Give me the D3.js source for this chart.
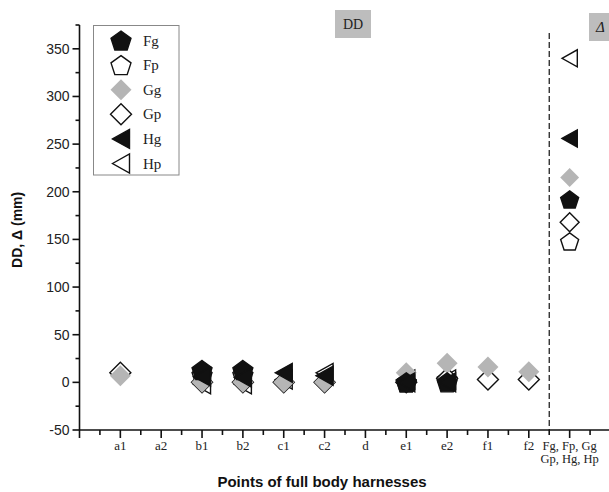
<!DOCTYPE html>
<html>
<head>
<meta charset="utf-8">
<script src="https://cdn.jsdelivr.net/npm/d3@7.9.0/dist/d3.min.js"></script>
<style>
  body { margin: 0; background: #fff; }
  svg { display: block; }
</style>
</head>
<body>
<svg width="609" height="492"></svg>
<script>
// categories on the x axis (index 1..12)
const categories = ["a1", "a2", "b1", "b2", "c1", "c2", "d", "e1", "e2", "f1", "f2", "Fg, Fp, Gg|Gp, Hg, Hp"];

// series values per category (null = no point)
const Fg = [null, null, 13, 13, null, null, null, 0, 0, null, null, 192];
const Fp = [null, null, 8, 8, null, null, null, 0, 3, null, null, 148];
const Gg = [7, null, 0, 0, 0, 0, null, 10, 20, 16, 11, 215];
const Gp = [10, null, 0, 0, 0, 0, null, 0, 4, 3, 3, 168];
const Hg = [null, null, 6, 5, 10, 7, null, 0, 0, null, null, 256];
const Hp = [null, null, -2, -2, 3, 10, null, 3, 3, null, null, 340];

const yMajor = [-50, 0, 50, 100, 150, 200, 250, 300, 350];
const yMinor = [-25, 25, 75, 125, 175, 225, 275, 325, 375];

const series = [
  { name: "Fg", values: Fg, shape: "pent", fill: "#111", stroke: "#111" },
  { name: "Fp", values: Fp, shape: "pent", fill: "#fff", stroke: "#111" },
  { name: "Gg", values: Gg, shape: "diam", fill: "#b5b5b5", stroke: "none" },
  { name: "Gp", values: Gp, shape: "diam", fill: "#fff", stroke: "#111" },
  { name: "Hg", values: Hg, shape: "tri", fill: "#111", stroke: "#111" },
  { name: "Hp", values: Hp, shape: "tri", fill: "#fff", stroke: "#111" }
];
// open markers underneath, filled ones on top
const drawOrder = ["Fp", "Hp", "Gp", "Gg", "Fg", "Hg"];

const svg = d3.select("svg");
const x = d3.scaleLinear().domain([0, 13]).range([79.5, 610.5]);
const y = d3.scaleLinear().domain([-50, 375]).range([430, 25]);

// marker shapes
function shapePath(shape, s) {
  if (shape === "pent") {
    const r = 10.5 * s;
    const pts = d3.range(5).map(i => {
      const a = -Math.PI / 2 + i * 2 * Math.PI / 5;
      return [r * Math.cos(a), r * Math.sin(a) + 1];
    });
    return "M" + pts.join("L") + "Z";
  }
  if (shape === "diam") {
    const r = 10.5 * s;
    return `M0,${-r}L${r},0L0,${r}L${-r},0Z`;
  }
  const w = 8.5 * s, h = 9.5 * s;
  return `M${-w},0L${w},${-h}L${w},${h}Z`;
}

// series points
drawOrder.map(n => series.find(s => s.name === n)).forEach(sr => {
  svg.append("g").selectAll("path")
    .data(sr.values.map((v, i) => ({ v, i })).filter(d => d.v !== null))
    .enter()
    .append("path")
    .attr("transform", d => `translate(${x(d.i + 1)},${y(d.v)})`)
    .attr("d", d => shapePath(sr.shape, d.i === 11 ? 0.9 : 1))
    .attr("fill", sr.fill)
    .attr("stroke", sr.stroke)
    .attr("stroke-width", 1.4)
    .attr("stroke-linejoin", "miter");
});

// dashed separator
svg.append("line")
  .attr("x1", x(11.5)).attr("x2", x(11.5))
  .attr("y1", 33).attr("y2", y(-50))
  .attr("stroke", "#111").attr("stroke-width", 1.2)
  .attr("stroke-dasharray", "6,3");

// y axis
const ax = svg.append("g").attr("stroke", "#111").attr("stroke-width", 1.6);
ax.append("line").attr("x1", x(0)).attr("x2", x(0)).attr("y1", y(375)).attr("y2", y(-50) + 8);
ax.selectAll(".ymaj").data(yMajor).enter().append("line")
  .attr("x1", x(0) - 7).attr("x2", x(0)).attr("y1", d => y(d)).attr("y2", d => y(d));
ax.selectAll(".ymin").data(yMinor).enter().append("line")
  .attr("x1", x(0) - 4).attr("x2", x(0)).attr("y1", d => y(d)).attr("y2", d => y(d));

svg.append("g").selectAll("text").data(yMajor).enter().append("text")
  .attr("x", x(0) - 10).attr("y", d => y(d) + 5)
  .attr("text-anchor", "end")
  .attr("font-family", "Liberation Sans, Arial, sans-serif")
  .attr("font-size", 14).attr("fill", "#222")
  .text(d => d);

// x axis
ax.append("line").attr("x1", x(0)).attr("x2", 609).attr("y1", y(-50)).attr("y2", y(-50));
ax.selectAll(".xmaj").data(d3.range(1, 13)).enter().append("line")
  .attr("x1", d => x(d)).attr("x2", d => x(d)).attr("y1", y(-50)).attr("y2", y(-50) + 8);
ax.selectAll(".xmin").data(d3.range(0.5, 13, 1)).enter().append("line")
  .attr("x1", d => x(d)).attr("x2", d => x(d)).attr("y1", y(-50)).attr("y2", y(-50) + 5);

const xl = svg.append("g")
  .attr("font-family", "Liberation Serif, Times New Roman, serif")
  .attr("font-size", 13).attr("fill", "#222").attr("text-anchor", "middle");
categories.forEach((c, i) => {
  const lines = c.split("|");
  lines.forEach((t, j) => {
    xl.append("text").attr("x", x(i + 1)).attr("y", 450 + j * 13)
      .attr("font-size", lines.length > 1 ? 12.5 : 13).text(t);
  });
});

// axis titles
svg.append("text")
  .attr("transform", `translate(22,${y(160)}) rotate(-90)`)
  .attr("text-anchor", "middle")
  .attr("font-family", "Liberation Sans, Arial, sans-serif")
  .attr("font-weight", "bold").attr("font-size", 14).attr("fill", "#111")
  .text("DD, Δ (mm)");

svg.append("text")
  .attr("x", 322).attr("y", 487)
  .attr("text-anchor", "middle")
  .attr("font-family", "Liberation Sans, Arial, sans-serif")
  .attr("font-weight", "bold").attr("font-size", 15).attr("fill", "#111")
  .text("Points of full body harnesses");

// region labels
svg.append("rect").attr("x", 335).attr("y", 10).attr("width", 36).attr("height", 28).attr("fill", "#bdbdbd");
svg.append("text").attr("x", 353).attr("y", 29).attr("text-anchor", "middle")
  .attr("font-family", "Liberation Serif, Times New Roman, serif").attr("font-size", 14).attr("fill", "#222")
  .text("DD");
svg.append("rect").attr("x", 589).attr("y", 13).attr("width", 30).attr("height", 28).attr("fill", "#bdbdbd");
svg.append("text").attr("x", 596).attr("y", 32)
  .attr("font-family", "Liberation Serif, Times New Roman, serif").attr("font-style", "italic")
  .attr("font-size", 15).attr("fill", "#222")
  .text("Δ");

// legend
svg.append("rect").attr("x", 93.5).attr("y", 25.5).attr("width", 85.5).attr("height", 149.5)
  .attr("fill", "none").attr("stroke", "#888").attr("stroke-width", 1);
const lg = svg.append("g").selectAll("g").data(series).enter().append("g")
  .attr("transform", (d, i) => `translate(121,${40.5 + i * 24.6})`);
lg.append("path")
  .attr("d", d => shapePath(d.shape, 1))
  .attr("fill", d => d.fill).attr("stroke", d => d.stroke).attr("stroke-width", 1.4);
lg.append("text").attr("x", 22).attr("y", 5)
  .attr("font-family", "Liberation Serif, Times New Roman, serif")
  .attr("font-size", 15).attr("fill", "#222")
  .text(d => d.name);
</script>
</body>
</html>
